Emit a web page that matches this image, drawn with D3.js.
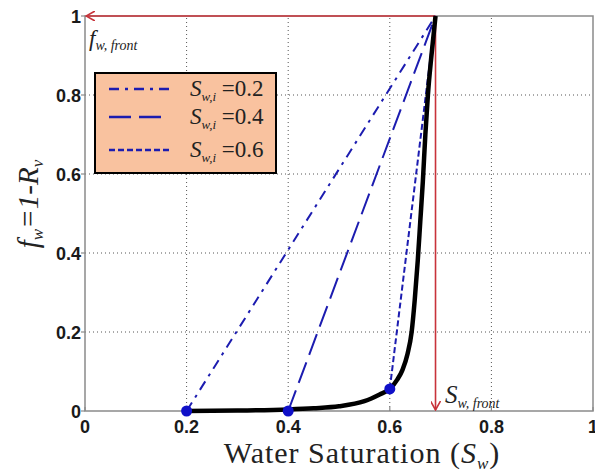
<!DOCTYPE html>
<html>
<head>
<meta charset="utf-8">
<script src="https://cdn.jsdelivr.net/npm/d3@7"></script>
<style>
  body { margin: 0; background: #fff; }
  svg { display: block; }
  .tick-lbl { font-family: "Liberation Sans", Arial, sans-serif; font-weight: bold; font-size: 18px; fill: #1a1a1a; }
  .serif { font-family: "Liberation Serif", "Times New Roman", serif; fill: #222; }
</style>
</head>
<body>
<div id="chart"></div>
<script>
// fractional flow curve (black)
var satValues = [0.2, 0.3, 0.4, 0.45, 0.5, 0.55, 0.58, 0.6, 0.615, 0.625, 0.635, 0.643, 0.649, 0.655, 0.66, 0.665, 0.67, 0.675, 0.682, 0.69];
var fwValues  = [0, 0.001, 0.004, 0.007, 0.012, 0.025, 0.042, 0.056, 0.08, 0.104, 0.145, 0.2, 0.28, 0.38, 0.48, 0.58, 0.7, 0.8, 0.9, 1.0];

// tangent lines from initial saturation to the front
var initSat = [0.2, 0.4, 0.6];
var initFw  = [0, 0, 0.056];
var legendLabels = ["0.2", "0.4", "0.6"];
var dashes = ["10,6,3,6", "22,8", "6,3"];

var frontSat = 0.69, frontFw = 1.0;

var tickValues = [0, 0.2, 0.4, 0.6, 0.8, 1];
var tickLabels = ["0", "0.2", "0.4", "0.6", "0.8", "1"];

var W = 595, H = 473;
var svg = d3.select("#chart").append("svg").attr("width", W).attr("height", H);

var x = d3.scaleLinear().domain([0, 1]).range([85, 593]);
var y = d3.scaleLinear().domain([0, 1]).range([411, 16]);

var defs = svg.append("defs");
defs.append("marker").attr("id", "arr")
    .attr("viewBox", "0 0 10 10").attr("refX", 9).attr("refY", 5)
    .attr("markerWidth", 10).attr("markerHeight", 10).attr("orient", "auto-start-reverse")
    .attr("markerUnits", "userSpaceOnUse")
  .append("path").attr("d", "M0,0 L9,5 L0,10").attr("fill", "none")
    .attr("stroke", "#c8333a").attr("stroke-width", 1.6);

// grid
var inner = [0.2, 0.4, 0.6, 0.8];
svg.append("g").selectAll("line").data(inner).enter().append("line")
    .attr("x1", function(d) { return x(d); }).attr("x2", function(d) { return x(d); })
    .attr("y1", y(0)).attr("y2", y(1))
    .attr("stroke", "#555").attr("stroke-width", 1).attr("stroke-dasharray", "1,3");
svg.append("g").selectAll("line").data(inner).enter().append("line")
    .attr("y1", function(d) { return y(d); }).attr("y2", function(d) { return y(d); })
    .attr("x1", x(0)).attr("x2", x(1))
    .attr("stroke", "#555").attr("stroke-width", 1).attr("stroke-dasharray", "1,3");

// frame
svg.append("rect").attr("x", x(0)).attr("y", y(1))
    .attr("width", x(1) - x(0)).attr("height", y(0) - y(1))
    .attr("fill", "none").attr("stroke", "#8a8a8a").attr("stroke-width", 1.5);

// ticks
svg.append("g").selectAll("line").data(tickValues).enter().append("line")
    .attr("x1", x(0) - 4).attr("x2", x(0))
    .attr("y1", function(d) { return y(d); }).attr("y2", function(d) { return y(d); })
    .attr("stroke", "#8a8a8a").attr("stroke-width", 1.2);
svg.append("g").selectAll("line").data(tickValues).enter().append("line")
    .attr("x1", function(d) { return x(d); }).attr("x2", function(d) { return x(d); })
    .attr("y1", y(0)).attr("y2", y(0) - 4)
    .attr("stroke", "#8a8a8a").attr("stroke-width", 1.2);

svg.append("g").selectAll("text").data(tickValues).enter().append("text")
    .attr("class", "tick-lbl")
    .attr("x", x(0) - 4).attr("y", function(d) { return y(d) + 7; })
    .attr("text-anchor", "end")
    .text(function(d, i) { return tickLabels[i]; });
svg.append("g").selectAll("text").data(tickValues).enter().append("text")
    .attr("class", "tick-lbl")
    .attr("x", function(d) { return x(d); }).attr("y", 433)
    .attr("text-anchor", "middle")
    .text(function(d, i) { return tickLabels[i]; });

// red arrows to the front
svg.append("line").attr("x1", x(frontSat)).attr("y1", y(frontFw))
    .attr("x2", x(0) + 1).attr("y2", y(frontFw))
    .attr("stroke", "#c8333a").attr("stroke-width", 1.6).attr("marker-end", "url(#arr)");
svg.append("line").attr("x1", x(frontSat)).attr("y1", y(frontFw))
    .attr("x2", x(frontSat)).attr("y2", y(0) - 1)
    .attr("stroke", "#c8333a").attr("stroke-width", 1.6).attr("marker-end", "url(#arr)");

// tangent lines
initSat.forEach(function(s, i) {
  svg.append("line")
    .attr("x1", x(s)).attr("y1", y(initFw[i]))
    .attr("x2", x(frontSat)).attr("y2", y(frontFw))
    .attr("stroke", "#1c1cb0").attr("stroke-width", 2)
    .attr("stroke-dasharray", dashes[i]);
});

// fractional flow curve
var pts = satValues.map(function(s, i) { return [s, fwValues[i]]; });
var line = d3.line().x(function(d) { return x(d[0]); }).y(function(d) { return y(d[1]); })
    .curve(d3.curveMonotoneX);
svg.append("path").datum(pts).attr("d", line)
    .attr("fill", "none").attr("stroke", "#000").attr("stroke-width", 4.5)
    .attr("stroke-linejoin", "round");

// initial points
svg.append("g").selectAll("circle").data(initSat).enter().append("circle")
    .attr("cx", function(d) { return x(d); })
    .attr("cy", function(d, i) { return y(initFw[i]); })
    .attr("r", 5.5).attr("fill", "#1010c8");

// legend
var lg = svg.append("g").attr("transform", "translate(95,73)");
lg.append("rect").attr("width", 181).attr("height", 100)
    .attr("fill", "#f9c29f").attr("stroke", "#000").attr("stroke-width", 2);
var rowsY = [16, 44, 77];
legendLabels.forEach(function(lbl, i) {
  lg.append("line").attr("x1", 14).attr("x2", 74).attr("y1", rowsY[i]).attr("y2", rowsY[i])
    .attr("stroke", "#1c1cb0").attr("stroke-width", 2.5).attr("stroke-dasharray", dashes[i]);
  var t = lg.append("text").attr("class", "serif").attr("x", 95).attr("y", rowsY[i] + 7)
    .attr("font-size", 23);
  t.append("tspan").attr("font-style", "italic").text("S");
  t.append("tspan").attr("font-style", "italic").attr("font-size", 13).attr("dy", 5).text("w,i");
  t.append("tspan").attr("dy", -5).text(" =" + lbl);
});

// annotations
var fa = svg.append("text").attr("class", "serif").attr("x", 89).attr("y", 46)
    .attr("font-size", 23).attr("font-style", "italic");
fa.append("tspan").text("f");
fa.append("tspan").attr("font-size", 14).attr("dy", 4).text("w, front");

var sa = svg.append("text").attr("class", "serif").attr("x", 445).attr("y", 403)
    .attr("font-size", 25).attr("font-style", "italic");
sa.append("tspan").text("S");
sa.append("tspan").attr("font-size", 14).attr("dy", 5).text("w, front");

// axis titles
var xt = svg.append("text").attr("class", "serif").attr("x", 362).attr("y", 463)
    .attr("text-anchor", "middle").attr("font-size", 30).attr("letter-spacing", 1);
xt.append("tspan").text("Water Saturation (");
xt.append("tspan").attr("font-style", "italic").text("S");
xt.append("tspan").attr("font-style", "italic").attr("font-size", 17).attr("dy", 6).text("w");
xt.append("tspan").attr("dy", -6).text(")");

var yt = svg.append("text").attr("class", "serif")
    .attr("transform", "translate(38,204) rotate(-90)")
    .attr("text-anchor", "middle").attr("font-size", 29).attr("font-style", "italic");
yt.append("tspan").text("f");
yt.append("tspan").attr("font-size", 17).attr("dy", 5).text("w");
yt.append("tspan").attr("dy", -5).text("=1-R");
yt.append("tspan").attr("font-size", 17).attr("dy", 5).text("v");
</script>
</body>
</html>
